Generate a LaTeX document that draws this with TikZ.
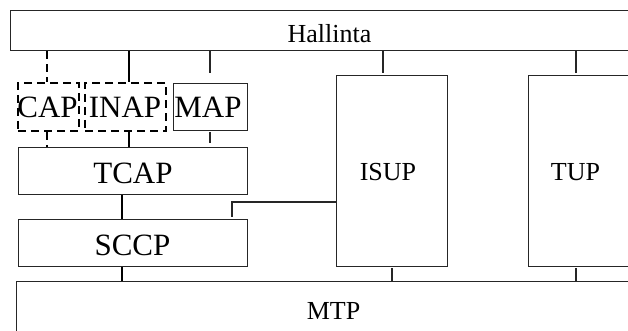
\documentclass[tikz,border=0pt]{standalone}
\usepackage{fontspec}
\setmainfont{Liberation Serif}
\begin{document}
\begin{tikzpicture}[x=1pt,y=-1pt,
  box/.style={draw=black!85,line width=1.2pt,rectangle,inner sep=0pt,anchor=north west},
  dbox/.style={draw=black,line width=2pt,dash pattern=on 8pt off 5pt,rectangle,inner sep=0pt,anchor=north west},
  big/.style={inner sep=0pt,anchor=base,font=\fontsize{31}{31}\selectfont},
  med/.style={inner sep=0pt,anchor=base,font=\fontsize{26}{26}\selectfont},
  thin/.style={draw=black!85,line width=1.1pt},
  thick/.style={draw=black,line width=2pt},
  dconn/.style={draw=black,line width=2pt,dash pattern=on 8pt off 5pt}]
\useasboundingbox (0,0) rectangle (628,331);
\clip (0,0) rectangle (628,331);
% boxes
\node[box,minimum width=640pt,minimum height=40pt] (hal) at (10,10) {};
\node[dbox,minimum width=61pt,minimum height=48pt] (cap) at (17,82) {};
\node[dbox,minimum width=81pt,minimum height=48pt] (inap) at (84,82) {};
\node[box,minimum width=74pt,minimum height=47pt] (map) at (173,83) {};
\node[box,minimum width=229pt,minimum height=47pt] (tcap) at (18,147) {};
\node[box,minimum width=229pt,minimum height=47pt] (sccp) at (18,219) {};
\node[box,minimum width=111pt,minimum height=191pt] (isup) at (336,75) {};
\node[box,minimum width=120pt,minimum height=191pt] (tup) at (528,75) {};
\node[box,minimum width=640pt,minimum height=80pt] (mtp) at (16,281) {};
% texts
\node[med] (halt) at (329.5,43) {Hallinta};
\node[big] (capt) at (47.5,118) {CAP};
\node[big] (inapt) at (125,118) {INAP};
\node[big] (mapt) at (208,118) {MAP};
\node[big] (tcapt) at (133,183) {TCAP};
\node[big] (sccpt) at (132.5,255) {SCCP};
\node[med] (isupt) at (388,180) {ISUP};
\node[med] (tupt) at (575.5,180) {TUP};
\node[med] (mtpt) at (333.5,319) {MTP};
% connectors
\draw[dconn] (hal.south -| 47,0) -- (cap.north -| 47,0);
\draw[thick] (hal.south -| 129,0) -- (inap.north -| 129,0);
\draw[thin] (hal.south -| 210,0) -- (210,73);
\draw[thin] (hal.south -| 383,0) -- (383,73);
\draw[thin] (hal.south -| 576,0) -- (576,73);
\draw[dconn] (cap.south -| 47,0) -- (tcap.north -| 47,0);
\draw[thick] (inap.south -| 129,0) -- (tcap.north -| 129,0);
\draw[thin] (210,132) -- (210,143);
\draw[thick] (tcap.south -| 122,0) -- (sccp.north -| 122,0);
\draw[thick] (sccp.south -| 122,0) -- (mtp.north -| 122,0);
\draw[thin] (isup.west |- 0,202) -- (232,202) -- (232,217);
\draw[thin] (392,268) -- (mtp.north -| 392,0);
\draw[thin] (576,268) -- (mtp.north -| 576,0);
\end{tikzpicture}
\end{document}
